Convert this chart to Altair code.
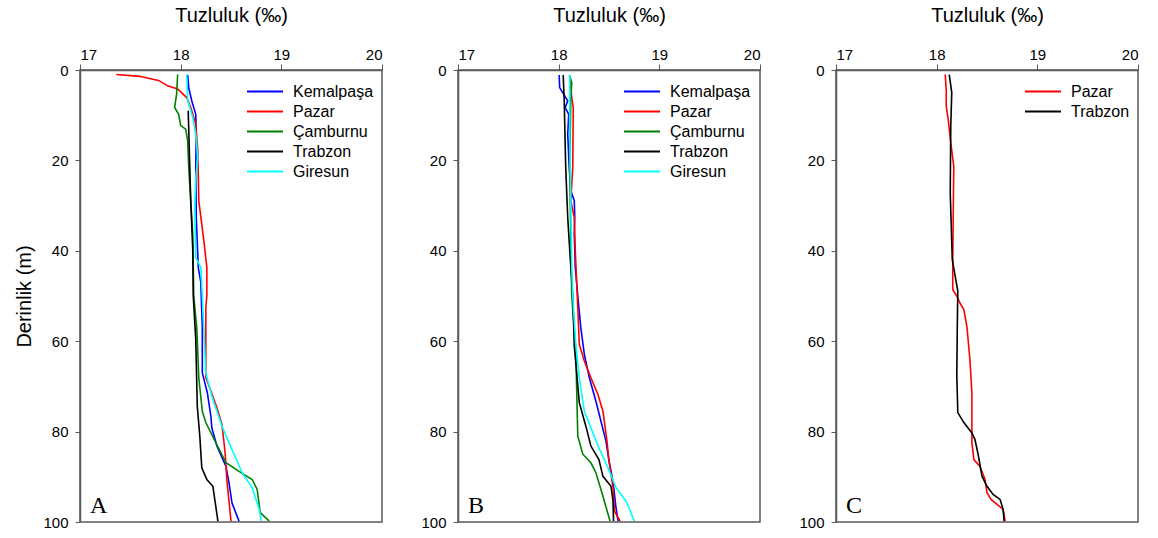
import altair as alt
import pandas as pd

# Salinity (‰) profiles against depth (m) at the stations, three survey panels.
COLORS = {"Kemalpaşa": "#0000FF", "Pazar": "#FF0000", "Çamburnu": "#008000",
          "Trabzon": "#000000", "Giresun": "#00FFFF"}

# Panel A
a_kemalpasa_depth = [1.1, 3.9, 6.8, 9.8, 14.2, 21.6, 32.6, 43.7, 47, 57, 67, 71.4, 76.6, 79.2, 83.2, 87.7, 91.3, 95.8, 99.8]
a_kemalpasa_sal = [18.07, 18.08, 18.11, 18.15, 18.155, 18.15, 18.155, 18.175, 18.20, 18.215, 18.215, 18.265, 18.30, 18.31, 18.36, 18.45, 18.48, 18.51, 18.58]
a_pazar_depth = [1.0, 1.4, 2.3, 3.5, 4.2, 6.1, 8.3, 12, 17.8, 28.9, 37.7, 43.7, 50, 52.5, 68, 71, 74.7, 78.4, 84.3, 91, 99.8]
a_pazar_sal = [17.36, 17.59, 17.78, 17.87, 17.97, 18.06, 18.10, 18.15, 18.17, 18.18, 18.23, 18.26, 18.26, 18.25, 18.25, 18.30, 18.36, 18.41, 18.44, 18.46, 18.50]
a_camburnu_depth = [1.0, 5.3, 8.3, 9.8, 12.3, 13.1, 15.7, 21.6, 36.3, 50, 57, 68.1, 75.5, 78, 82.5, 86.9, 88.8, 90.6, 92.8, 97.9, 99.8]
a_camburnu_sal = [17.97, 17.96, 17.94, 17.98, 18.00, 18.05, 18.07, 18.08, 18.12, 18.13, 18.16, 18.18, 18.215, 18.25, 18.35, 18.45, 18.58, 18.71, 18.76, 18.79, 18.88]
a_trabzon_depth = [9, 28.9, 39.7, 50, 59.6, 74.4, 81, 88, 90.6, 92.1, 99.8]
a_trabzon_sal = [18.075, 18.10, 18.12, 18.125, 18.15, 18.165, 18.19, 18.21, 18.26, 18.32, 18.37]
a_giresun_depth = [1.0, 6.8, 10.5, 14.2, 19.4, 23.8, 30.4, 41.5, 43.7, 50, 67, 72.2, 78.8, 84, 89.1, 92.4, 97.2, 99.8]
a_giresun_sal = [18.06, 18.07, 18.12, 18.15, 18.17, 18.15, 18.14, 18.15, 18.20, 18.215, 18.25, 18.31, 18.41, 18.51, 18.61, 18.71, 18.78, 18.80]

# Panel B
b_kemalpasa_depth = [1.1, 3.9, 5, 6.1, 6.8, 8.3, 9.8, 14.2, 21.6, 26.7, 28.9, 32.6, 36.3, 43.7, 50, 57, 62.9, 68.1, 73.3, 77.7, 82.1, 86.5, 91, 96.9, 99.8]
b_kemalpasa_sal = [18.005, 18.01, 18.04, 18.07, 18.09, 18.065, 18.10, 18.09, 18.105, 18.12, 18.155, 18.16, 18.155, 18.165, 18.19, 18.22, 18.255, 18.305, 18.37, 18.42, 18.47, 18.50, 18.54, 18.57, 18.59]
b_pazar_depth = [1.3, 6.1, 8.3, 21.6, 28.9, 32.6, 40, 50, 60.7, 64.4, 68.1, 71.8, 75.5, 82.1, 86.5, 92.4, 97.6, 99.8]
b_pazar_sal = [18.11, 18.13, 18.145, 18.14, 18.12, 18.155, 18.165, 18.185, 18.205, 18.255, 18.32, 18.39, 18.44, 18.48, 18.50, 18.54, 18.555, 18.61]
b_camburnu_depth = [1.1, 2.8, 6.8, 21.6, 36.3, 50, 61.8, 71.8, 81, 85, 86.9, 89.1, 94.3, 99.8]
b_camburnu_sal = [18.105, 18.13, 18.12, 18.11, 18.12, 18.13, 18.17, 18.18, 18.19, 18.24, 18.32, 18.37, 18.44, 18.51]
b_trabzon_depth = [1.1, 6.8, 21.6, 32.6, 40, 50, 61, 73.6, 78.8, 83.2, 86.2, 89.9, 92.1, 95.4, 99.8]
b_trabzon_sal = [18.045, 18.055, 18.07, 18.09, 18.11, 18.14, 18.155, 18.205, 18.27, 18.32, 18.40, 18.44, 18.52, 18.54, 18.545]
b_giresun_depth = [1.1, 14.2, 28.9, 43.7, 50, 60.7, 68.1, 75.5, 79.2, 83.6, 88, 92.4, 95.4, 96.9, 99.8]
b_giresun_sal = [18.11, 18.11, 18.12, 18.13, 18.14, 18.17, 18.205, 18.255, 18.32, 18.40, 18.49, 18.57, 18.67, 18.70, 18.75]

# Panel C
c_pazar_depth = [1, 4.3, 8, 11, 16.1, 21.3, 30.9, 41.9, 48.6, 50, 51.5, 53, 56.7, 64, 71.4, 82.5, 86.2, 87.7, 90.6, 93.5, 95, 96.1, 97.2, 99.8]
c_pazar_sal = [18.085, 18.095, 18.095, 18.115, 18.14, 18.17, 18.165, 18.16, 18.16, 18.20, 18.23, 18.27, 18.30, 18.33, 18.35, 18.35, 18.37, 18.43, 18.48, 18.50, 18.54, 18.60, 18.66, 18.68]
c_trabzon_depth = [1, 5, 12.4, 27.2, 41.9, 46.4, 48.9, 56.7, 67.7, 75.8, 78, 80.3, 81.7, 85.4, 89.9, 92.1, 93.9, 95, 97.2, 99.8]
c_trabzon_sal = [18.125, 18.15, 18.14, 18.135, 18.155, 18.19, 18.21, 18.205, 18.20, 18.21, 18.27, 18.35, 18.38, 18.415, 18.45, 18.50, 18.56, 18.63, 18.66, 18.67]

x_ticks = [17, 18, 19, 20]
y_ticks = [0, 20, 40, 60, 80, 100]

FONT = "Liberation Sans"
GRAY = "#5a5a5a"


def frame(series):
    rows = []
    for name, depths, sals in series:
        for i, (d, s) in enumerate(zip(depths, sals)):
            rows.append({"station": name, "depth": d, "sal": s, "i": i})
    return pd.DataFrame(rows)


def panel(series, letter, legend_x, show_ytitle):
    df = frame(series)
    names = [s[0] for s in series]
    x = alt.X("sal:Q",
              scale=alt.Scale(domain=[17, 20], nice=False),
              axis=alt.Axis(orient="top", values=x_ticks, format="d", title="Tuzluluk (‰)",
                            titleFontSize=20, titleFontWeight="normal", titleFont=FONT,
                            titlePadding=22, labelFontSize=15, labelFont=FONT,
                            labelColor="black", titleColor="black",
                            tickSize=6, tickColor=GRAY, domainColor=GRAY,
                            domainWidth=1.5, labelPadding=2, grid=False))
    y = alt.Y("depth:Q",
              scale=alt.Scale(domain=[0, 100], reverse=True, nice=False),
              axis=alt.Axis(values=y_ticks, format="d",
                            title="Derinlik (m)" if show_ytitle else "",
                            titleFontSize=20, titleFontWeight="normal", titleFont=FONT,
                            titlePadding=8, labelFontSize=15, labelFont=FONT,
                            labelColor="black", titleColor="black",
                            tickSize=5, tickColor=GRAY, domainColor=GRAY,
                            domainWidth=1.5, labelPadding=7, grid=False))
    lines = alt.Chart(df).mark_line(strokeWidth=1.6).encode(
        x=x, y=y,
        order=alt.Order("i:Q"),
        color=alt.Color("station:N",
                        scale=alt.Scale(domain=names, range=[COLORS[n] for n in names]),
                        sort=names,
                        legend=alt.Legend(orient="none", legendX=legend_x, legendY=13,
                                          title=None, symbolType="stroke",
                                          symbolSize=1296, symbolStrokeWidth=2,
                                          clipHeight=17, rowPadding=3, labelOffset=9,
                                          labelFontSize=16, labelFont=FONT,
                                          labelColor="black")),
    )
    tag = alt.Chart(pd.DataFrame({"t": [letter]})).mark_text(
        font="Liberation Serif", fontSize=24, align="left", baseline="alphabetic",
        color="black"
    ).encode(x=alt.datum(17.1), y=alt.datum(98.1), text="t:N")
    return alt.layer(lines, tag).properties(width=302, height=452)


panel_a = panel([
    ("Kemalpaşa", a_kemalpasa_depth, a_kemalpasa_sal),
    ("Pazar", a_pazar_depth, a_pazar_sal),
    ("Çamburnu", a_camburnu_depth, a_camburnu_sal),
    ("Trabzon", a_trabzon_depth, a_trabzon_sal),
    ("Giresun", a_giresun_depth, a_giresun_sal),
], "A", 166, True)

panel_b = panel([
    ("Kemalpaşa", b_kemalpasa_depth, b_kemalpasa_sal),
    ("Pazar", b_pazar_depth, b_pazar_sal),
    ("Çamburnu", b_camburnu_depth, b_camburnu_sal),
    ("Trabzon", b_trabzon_depth, b_trabzon_sal),
    ("Giresun", b_giresun_depth, b_giresun_sal),
], "B", 165, False)

panel_c = panel([
    ("Pazar", c_pazar_depth, c_pazar_sal),
    ("Trabzon", c_trabzon_depth, c_trabzon_sal),
], "C", 188, False)

chart = alt.hconcat(panel_a, panel_b, panel_c, spacing=76, bounds="flush").resolve_scale(
    color="independent"
).properties(
    padding={"left": 14, "top": 4, "right": 5, "bottom": 5},
    background="white",
).configure_view(stroke=GRAY, strokeWidth=1.5)

chart.save("out.html", embed_options={"renderer": "svg", "actions": False})
